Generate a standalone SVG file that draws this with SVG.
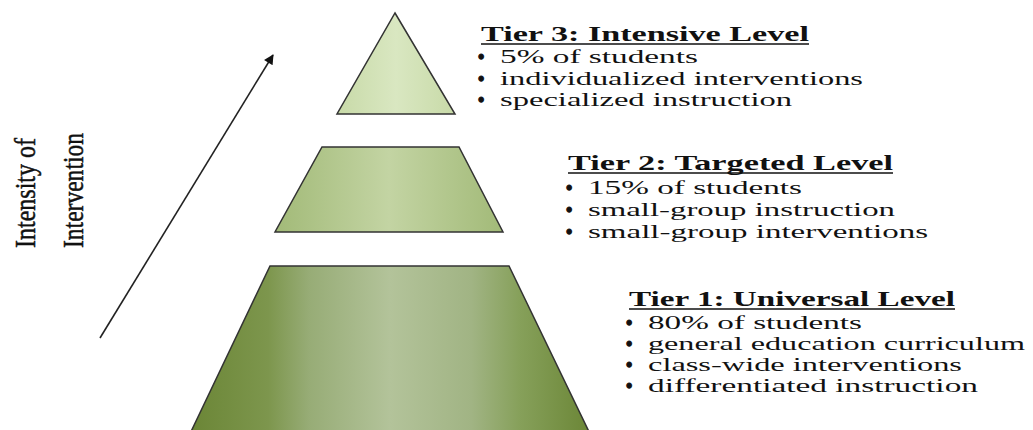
<svg xmlns="http://www.w3.org/2000/svg" width="1033" height="430" viewBox="0 0 1033 430">
  <style>
    .tier { stroke: #333; stroke-width: 1.5; stroke-linejoin: miter; }
    .title { font-family: "Liberation Serif", serif; font-weight: bold; font-size: 21px; fill: #111; }
    .item { font-family: "Liberation Serif", serif; font-size: 18px; fill: #111; }
    .bul { font-family: "Liberation Serif", serif; font-size: 18px; font-weight: bold; fill: #111; stroke: #111; stroke-width: 1; }
    .ul { stroke: #111; stroke-width: 1.4; }
    .axis { font-family: "Liberation Serif", serif; font-size: 30px; fill: #111; stroke: #111; stroke-width: 0.5; }
  </style>
  <defs>
    <linearGradient id="g1" x1="0" y1="0" x2="1" y2="0">
      <stop offset="0" stop-color="#6a8535"/>
      <stop offset="0.2" stop-color="#7d964d"/>
      <stop offset="0.3" stop-color="#97ac76"/>
      <stop offset="0.5" stop-color="#b3c39a"/>
      <stop offset="0.7" stop-color="#a1b484"/>
      <stop offset="0.82" stop-color="#86a05a"/>
      <stop offset="1" stop-color="#6a8535"/>
    </linearGradient>
    <linearGradient id="g2" x1="0" y1="0" x2="1" y2="0">
      <stop offset="0" stop-color="#a2ba78"/>
      <stop offset="0.5" stop-color="#c3d4a3"/>
      <stop offset="1" stop-color="#a2ba78"/>
    </linearGradient>
    <linearGradient id="g3" x1="0" y1="0" x2="1" y2="0">
      <stop offset="0" stop-color="#c8daa8"/>
      <stop offset="0.5" stop-color="#d9e7c1"/>
      <stop offset="1" stop-color="#c8daa8"/>
    </linearGradient>
    <marker id="arr" viewBox="0 0 10 10" refX="9" refY="5" markerWidth="13" markerHeight="10" markerUnits="userSpaceOnUse" orient="auto">
      <path d="M0,0 L10,5 L0,10 z" fill="#111"/>
    </marker>
  </defs>

  <g id="connectors">
    <line x1="100" y1="338" x2="273" y2="55" stroke="#222" stroke-width="1.6" marker-end="url(#arr)"/>
  </g>

  <g id="axis-label">
    <text class="axis" transform="translate(35,248) rotate(-90)" textLength="110" lengthAdjust="spacingAndGlyphs">Intensity of</text>
    <text class="axis" transform="translate(83,248) rotate(-90)" textLength="115" lengthAdjust="spacingAndGlyphs">Intervention</text>
  </g>

  <g id="tier1">
    <polygon class="tier" points="270,266 509,266 593,440 187,440" fill="url(#g1)"/>
  </g>
  <g id="tier2">
    <polygon class="tier" points="322,147 459,147 503,232 275,232" fill="url(#g2)"/>
  </g>
  <g id="tier3">
    <polygon class="tier" points="395,13 455,114 337,114" fill="url(#g3)"/>
  </g>

  <g id="tier3-text">
    <text class="title" x="481" y="41" textLength="328" lengthAdjust="spacingAndGlyphs">Tier 3: Intensive Level</text>
    <line class="ul" x1="481" y1="44" x2="809" y2="44"/>
    <text class="bul" x="478" y="63">•</text>
    <text class="item" x="500" y="63" textLength="198" lengthAdjust="spacingAndGlyphs">5% of students</text>
    <text class="bul" x="478" y="85">•</text>
    <text class="item" x="500" y="85" textLength="363" lengthAdjust="spacingAndGlyphs">individualized interventions</text>
    <text class="bul" x="478" y="106">•</text>
    <text class="item" x="500" y="106" textLength="292" lengthAdjust="spacingAndGlyphs">specialized instruction</text>
  </g>

  <g id="tier2-text">
    <text class="title" x="568" y="170" textLength="325" lengthAdjust="spacingAndGlyphs">Tier 2: Targeted Level</text>
    <line class="ul" x1="568" y1="173" x2="893" y2="173"/>
    <text class="bul" x="566" y="194">•</text>
    <text class="item" x="588" y="194" textLength="214" lengthAdjust="spacingAndGlyphs">15% of students</text>
    <text class="bul" x="566" y="216">•</text>
    <text class="item" x="588" y="216" textLength="307" lengthAdjust="spacingAndGlyphs">small-group instruction</text>
    <text class="bul" x="566" y="238">•</text>
    <text class="item" x="588" y="238" textLength="340" lengthAdjust="spacingAndGlyphs">small-group interventions</text>
  </g>

  <g id="tier1-text">
    <text class="title" x="629" y="306" textLength="326" lengthAdjust="spacingAndGlyphs">Tier 1: Universal Level</text>
    <line class="ul" x1="629" y1="309" x2="955" y2="309"/>
    <text class="bul" x="626" y="329">•</text>
    <text class="item" x="648" y="329" textLength="214" lengthAdjust="spacingAndGlyphs">80% of students</text>
    <text class="bul" x="626" y="350">•</text>
    <text class="item" x="648" y="350" textLength="377" lengthAdjust="spacingAndGlyphs">general education curriculum</text>
    <text class="bul" x="626" y="371">•</text>
    <text class="item" x="648" y="371" textLength="314" lengthAdjust="spacingAndGlyphs">class-wide interventions</text>
    <text class="bul" x="626" y="392">•</text>
    <text class="item" x="648" y="392" textLength="330" lengthAdjust="spacingAndGlyphs">differentiated instruction</text>
  </g>
</svg>
